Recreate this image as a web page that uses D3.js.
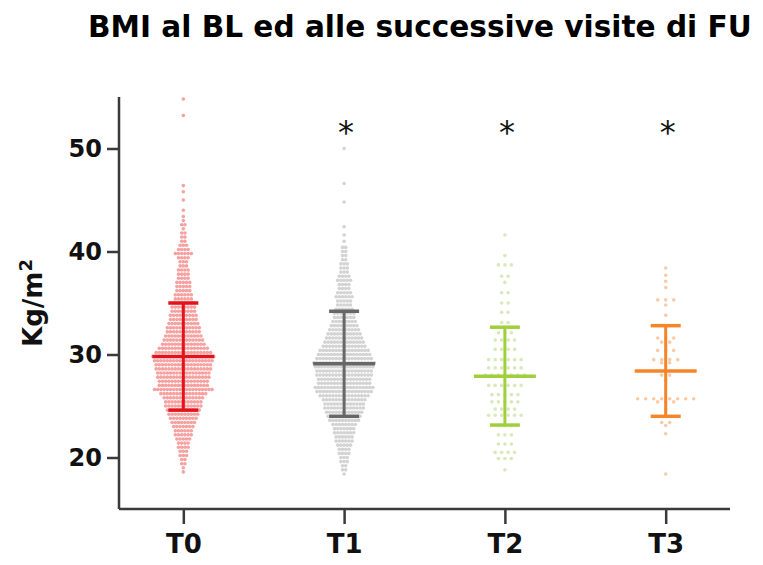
<!DOCTYPE html>
<html>
<head>
<meta charset="utf-8">
<script src="https://d3js.org/d3.v7.min.js"></script>
<style>
    body { margin: 0; background: #fff; }
    .title { font-family: "DejaVu Sans", Verdana, sans-serif; font-weight: bold; }
    .axis text { font-family: "DejaVu Sans", Verdana, sans-serif; font-weight: bold; fill: #111; }
</style>
</head>
<body>
<svg id="chart" width="763" height="565"></svg>
<script>
    // groups and summary stats (mean +/- SD)
    const groups = ["T0", "T1", "T2", "T3"];
    const means = [29.8, 29.1, 27.9, 28.4];
    const sds = [5.2, 5.1, 4.75, 4.4];
    const starred = ["T1", "T2", "T3"];
    const yTicks = [20, 30, 40, 50];

    // rows of dots: [BMI, number of patients in that row]
    const t0Rows = [[18.6,1],[19.0,1],[19.4,2],[19.8,2],[20.2,3],[20.6,3],[21.0,4],[21.4,4],[21.8,5],[22.2,6],
        [22.6,6],[23.0,7],[23.4,8],[23.8,9],[24.2,10],[24.6,11],[25.0,12],[25.4,12],[25.8,13],[26.2,15],
        [26.6,19],[27.0,16],[27.4,16],[27.8,17],[28.2,17],[28.6,18],[29.0,18],[29.4,19],[29.8,20],[30.2,18],
        [30.6,16],[31.0,14],[31.4,13],[31.8,12],[32.2,11],[32.6,11],[33.0,10],[33.4,9],[33.8,9],[34.2,8],
        [34.6,8],[35.0,7],[35.4,6],[35.8,6],[36.2,5],[36.6,5],[37.0,5],[37.4,4],[37.8,4],[38.2,4],
        [38.6,3],[39.0,3],[39.4,4],[39.8,6],[40.2,4],[40.6,3],[41.0,2],[41.4,2],[41.8,2],[42.2,1],
        [42.6,2],[43.0,1],[43.4,1],[44.0,1],[45.0,1],[45.8,1],[46.4,1],[53.2,1],[54.8,1]];
    const t1Rows = [[18.4,1],[18.8,2],[19.2,2],[19.6,3],[20.0,3],[20.4,4],[20.8,4],[21.2,5],[21.6,6],[22.0,6],
        [22.4,7],[22.8,7],[23.2,8],[23.6,10],[24.0,11],[24.4,12],[24.8,13],[25.2,13],[25.6,14],[26.0,16],
        [26.4,18],[26.8,19],[27.2,17],[27.6,17],[28.0,18],[28.4,18],[28.8,19],[29.2,20],[29.6,18],[30.0,17],
        [30.4,16],[30.8,14],[31.2,13],[31.6,12],[32.0,11],[32.4,10],[32.8,9],[33.2,8],[33.6,7],[34.0,7],
        [34.4,6],[34.8,5],[35.2,5],[35.6,6],[36.0,5],[36.4,4],[36.8,4],[37.2,5],[37.6,4],[38.0,3],
        [38.4,3],[38.8,3],[39.2,2],[39.6,2],[40.0,2],[40.4,2],[41.0,1],[41.6,1],[42.4,1],[44.8,1],
        [46.6,1],[50.0,1]];
    const t2Rows = [[18.8,1],[19.9,3],[20.5,4],[21.3,3],[22.2,3],[23.1,3],[24.1,6],[24.7,4],[25.4,5],[26.1,5],
        [27.0,6],[28.0,7],[28.7,6],[29.5,6],[30.5,4],[31.4,4],[32.1,3],[33.1,2],[34.1,2],[35.0,2],
        [36.0,2],[37.0,1],[37.6,2],[38.7,3],[39.6,1],[41.6,1]];
    const t3Rows = [[18.4,1],[22.3,1],[23.1,1],[23.4,2],[24.7,1],[25.4,3],[25.7,8],[27.5,1],[28.0,2],[29.2,2],
        [29.5,4],[30.4,3],[31.2,2],[31.6,3],[33.8,1],[34.8,1],[35.3,3],[36.5,1],[37.1,1],[37.7,1],[38.4,1]];

    const rowsByGroup = [t0Rows, t1Rows, t2Rows, t3Rows];
    const dotColors = ["#f58a8a", "#c8c8c8", "#cfe3a8", "#f8bf93"];
    const barColors = ["#e3121b", "#676767", "#9fd03c", "#f6852a"];
    const dotGap = [3.2, 3.2, 6.5, 8];

    const svg = d3.select("#chart");
    const margin = { top: 97, right: 33, bottom: 56, left: 119 };
    const width = +svg.attr("width");
    const height = +svg.attr("height");

    const x = d3.scalePoint().domain(groups).range([margin.left, width - margin.right]).padding(0.4);
    const y = d3.scaleLinear().domain([15, 55]).range([height - margin.bottom, margin.top]);

    // title, fitted to the width it takes in the picture
    const title = svg.append("text").attr("class", "title")
        .attr("x", 88).attr("y", 37)
        .attr("font-size", 30)
        .text("BMI al BL ed alle successive visite di FU");
    const tw = title.node().getComputedTextLength();
    title.attr("font-size", 30 * 664 / tw);

    // dots
    const dots = svg.append("g");
    groups.forEach((g, gi) => {
        const pts = [];
        rowsByGroup[gi].forEach(r => {
            for (let i = 0; i < r[1]; i++) {
                pts.push({ v: r[0], off: (i - (r[1] - 1) / 2) * dotGap[gi] });
            }
        });
        dots.selectAll(null).data(pts).join("circle")
            .attr("cx", d => x(g) + d.off)
            .attr("cy", d => y(d.v))
            .attr("r", 1.8)
            .attr("fill", dotColors[gi])
            .attr("fill-opacity", 0.8);
    });

    // mean +/- SD bars
    const bars = svg.append("g");
    groups.forEach((g, gi) => {
        const cx = x(g);
        const c = barColors[gi];
        bars.append("line").attr("x1", cx).attr("x2", cx)
            .attr("y1", y(means[gi] + sds[gi])).attr("y2", y(means[gi] - sds[gi]))
            .attr("stroke", c).attr("stroke-width", 3);
        [means[gi] + sds[gi], means[gi] - sds[gi]].forEach(v => {
            bars.append("line").attr("x1", cx - 15).attr("x2", cx + 15)
                .attr("y1", y(v)).attr("y2", y(v))
                .attr("stroke", c).attr("stroke-width", 3.5);
        });
        bars.append("line").attr("x1", cx - 31).attr("x2", cx + 31)
            .attr("y1", y(means[gi])).attr("y2", y(means[gi]))
            .attr("stroke", c).attr("stroke-width", 3.5);
    });

    // asterisks
    svg.append("g").selectAll("text").data(starred).join("text")
        .attr("x", d => x(d) + 2)
        .attr("y", 143)
        .attr("text-anchor", "middle")
        .attr("font-family", "DejaVu Sans, sans-serif")
        .attr("font-size", 32)
        .attr("fill", "#111")
        .text("*");

    // axes
    const yAxis = d3.axisLeft(y).tickValues(yTicks).tickSize(12).tickPadding(5).tickFormat(d3.format("d"));
    const gy = svg.append("g").attr("class", "axis")
        .attr("transform", `translate(${margin.left},0)`)
        .call(yAxis);
    gy.select(".domain").attr("d", `M0,${margin.top}V${height - margin.bottom}`);
    gy.selectAll("text").attr("font-size", 24);

    const xAxis = d3.axisBottom(x).tickSize(15).tickPadding(11);
    const gx = svg.append("g").attr("class", "axis")
        .attr("transform", `translate(0,${height - margin.bottom})`)
        .call(xAxis);
    gx.select(".domain").attr("d", `M${margin.left},0H${width - margin.right}`);
    gx.selectAll("text").attr("font-size", 26);

    svg.selectAll(".axis .domain, .axis line").attr("stroke", "#3a3a3a").attr("stroke-width", 2.5);

    svg.append("text").attr("class", "axis")
        .attr("transform", `translate(42,${(margin.top + height - margin.bottom) / 2}) rotate(-90)`)
        .attr("text-anchor", "middle")
        .attr("font-family", "DejaVu Sans, Verdana, sans-serif")
        .attr("font-weight", "bold")
        .attr("font-size", 26)
        .attr("fill", "#111")
        .html('Kg/m<tspan dy="-10" font-size="18">2</tspan>');
</script>
</body>
</html>
